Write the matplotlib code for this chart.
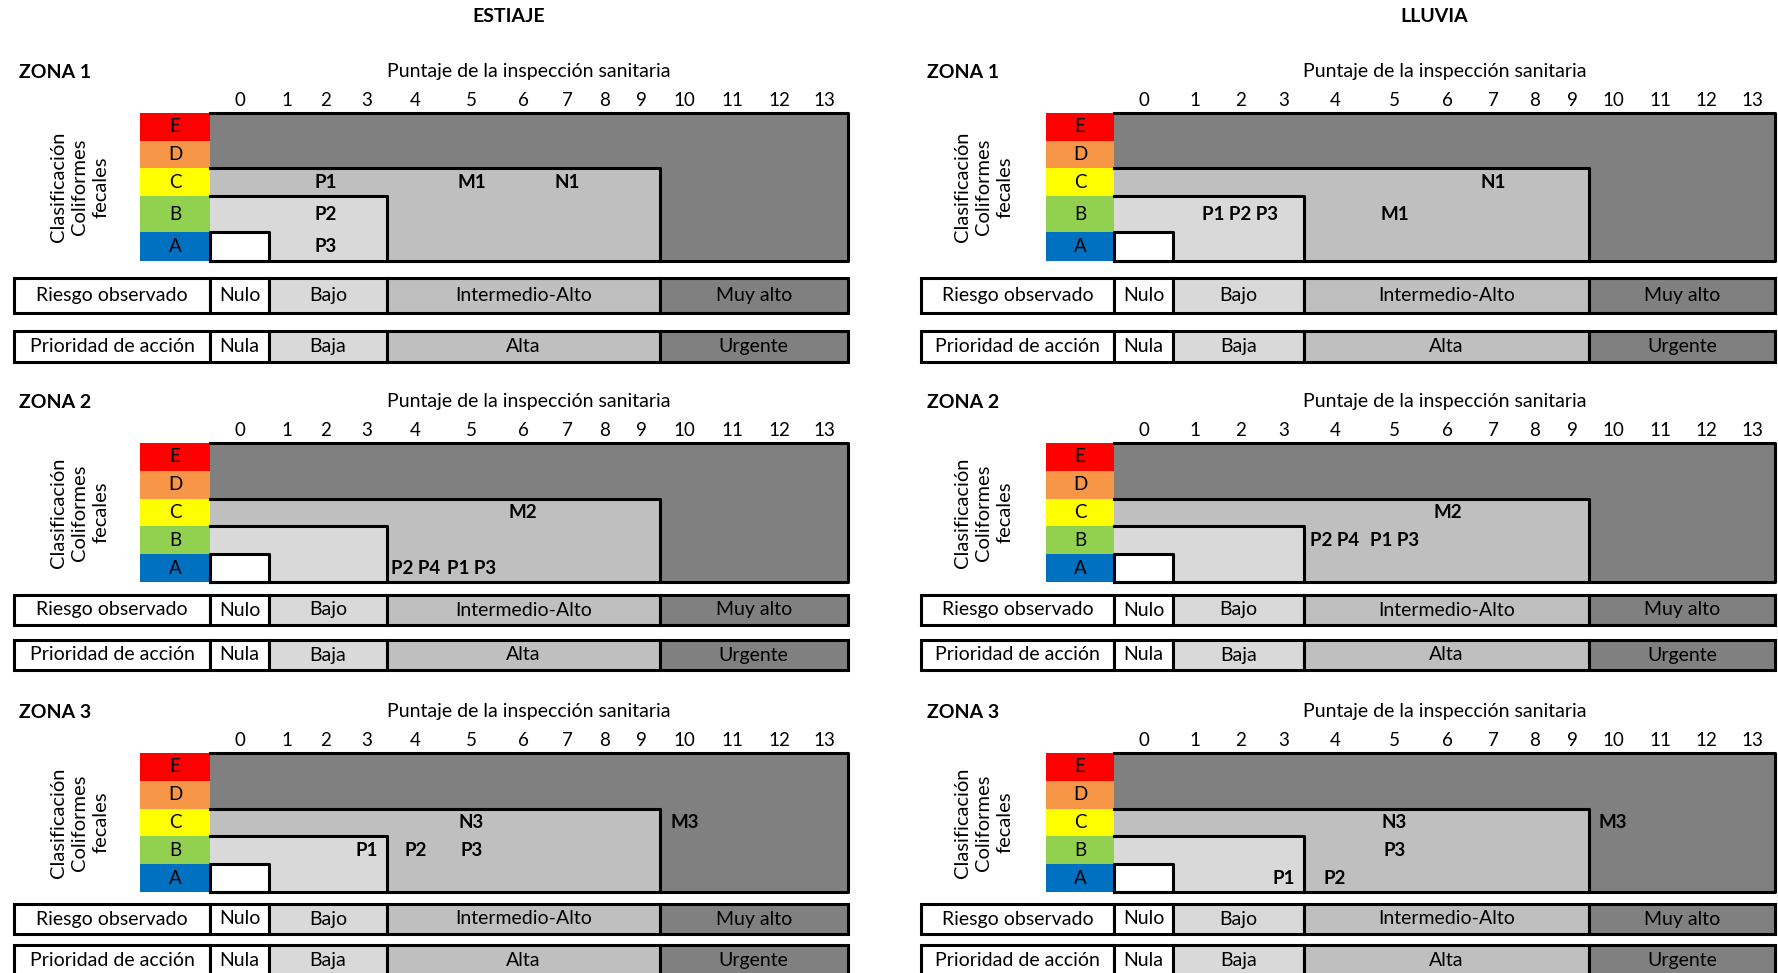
import matplotlib.pyplot as plt
from matplotlib.patches import Rectangle

plt.rcParams['font.family'] = ['Lato', 'DejaVu Sans']

# datos de la matriz de riesgo
seasons = ['ESTIAJE', 'LLUVIA']
zones = ['ZONA 1', 'ZONA 2', 'ZONA 3']
scores = list(range(14))
classes = ['E', 'D', 'C', 'B', 'A']
class_colors = ['#FF0000', '#F79646', '#FFFF00', '#92D050', '#0070C0']
riesgo = ['Nulo', 'Bajo', 'Intermedio-Alto', 'Muy alto']
prioridad = ['Nula', 'Baja', 'Alta', 'Urgente']
nivel_puntaje = [(0, 0), (1, 3), (4, 9), (10, 13)]   # rango de puntaje de cada nivel
nivel_clase = ['A', 'B', 'C', 'E']                   # clase maxima de cada nivel
nivel_colores = ['white', '#D9D9D9', '#BFBFBF', '#808080']

# puntos de muestreo: (etiqueta, puntaje, clase)
estiaje_z1 = [('P1', 2, 'C'), ('M1', 5, 'C'), ('N1', 7, 'C'), ('P2', 2, 'B'), ('P3', 2, 'A')]
estiaje_z2 = [('M2', 6, 'C'), ('P2', 4, 'A'), ('P4', 4, 'A'), ('P1', 5, 'A'), ('P3', 5, 'A')]
estiaje_z3 = [('N3', 5, 'C'), ('M3', 10, 'C'), ('P1', 3, 'B'), ('P2', 4, 'B'), ('P3', 5, 'B')]
lluvia_z1 = [('N1', 7, 'C'), ('P1', 2, 'B'), ('P2', 2, 'B'), ('P3', 2, 'B'), ('M1', 5, 'B')]
lluvia_z2 = [('M2', 6, 'C'), ('P2', 4, 'B'), ('P4', 4, 'B'), ('P1', 5, 'B'), ('P3', 5, 'B')]
lluvia_z3 = [('N3', 5, 'C'), ('M3', 10, 'C'), ('P3', 5, 'B'), ('P1', 3, 'A'), ('P2', 4, 'A')]
puntos = {'ESTIAJE': [estiaje_z1, estiaje_z2, estiaje_z3],
          'LLUVIA': [lluvia_z1, lluvia_z2, lluvia_z3]}

# geometria (pixeles), columnas de ancho variable como en la hoja original
col_edges = {'ESTIAJE': [210, 269, 305, 346, 387, 444, 499, 547, 587, 623, 660, 709, 756, 802, 847.5],
             'LLUVIA': [1114, 1173, 1217, 1264, 1304, 1366, 1423, 1472, 1515, 1555, 1589, 1637, 1683, 1729, 1775]}
label_x0 = {'ESTIAJE': 14, 'LLUVIA': 921}
color_x0 = {'ESTIAJE': 140, 'LLUVIA': 1046}
rot_x = {'ESTIAJE': 80, 'LLUVIA': 984}
zona_x = {'ESTIAJE': 19, 'LLUVIA': 927}
season_x = {'ESTIAJE': 509, 'LLUVIA': 1434}
row_edges = [[113, 141, 168, 196, 232, 261], [443, 471, 499, 526, 554, 582], [753, 781, 809, 836, 864, 892]]
zona_y = [73, 403, 713]
tick_y = [100, 431, 740]
riesgo_y = [(278, 313), (595, 625), (904, 934)]
prior_y = [(331, 362), (640, 670), (945, 976)]

FS = 14
LW = 2.2

fig = plt.figure(figsize=(17.78, 9.73), dpi=100)
ax = fig.add_axes([0, 0, 1, 1])
ax.set_xlim(0, 1778)
ax.set_ylim(973, 0)
ax.axis('off')


def col_center(xe, s):
    return (xe[s] + xe[s + 1]) / 2


def fila(xe, y0, y1, nombre, niveles):
    ax.add_patch(Rectangle((label_x0[side], y0), xe[0] - label_x0[side], y1 - y0,
                           facecolor='white', edgecolor='black', lw=LW))
    ax.text((label_x0[side] + xe[0]) / 2, (y0 + y1) / 2, nombre, ha='center', va='center', fontsize=FS)
    for (a, b), txt, c in zip(nivel_puntaje, niveles, nivel_colores):
        ax.add_patch(Rectangle((xe[a], y0), xe[b + 1] - xe[a], y1 - y0,
                               facecolor=c, edgecolor='black', lw=LW))
        ax.text((xe[a] + xe[b + 1]) / 2, (y0 + y1) / 2, txt, ha='center', va='center', fontsize=FS)


for side in seasons:
    xe = col_edges[side]
    ax.text(season_x[side], 17, side, ha='center', va='center', fontsize=FS, fontweight='bold')
    for z, zona in enumerate(zones):
        ye = row_edges[z]
        ax.text(zona_x[side], zona_y[z], zona, ha='left', va='center', fontsize=FS, fontweight='bold')
        ax.text((xe[0] + xe[-1]) / 2, zona_y[z] - 1, 'Puntaje de la inspección sanitaria',
                ha='center', va='center', fontsize=FS)
        for s in scores:
            ax.text(col_center(xe, s), tick_y[z], str(s), ha='center', va='center', fontsize=FS - 0.5)

        # columna de colores de la clasificacion
        for k, (cl, cc) in enumerate(zip(classes, class_colors)):
            ax.add_patch(Rectangle((color_x0[side], ye[k]), xe[0] - color_x0[side], ye[k + 1] - ye[k],
                                   facecolor=cc, edgecolor='none'))
            ax.text((color_x0[side] + xe[0]) / 2, (ye[k] + ye[k + 1]) / 2, cl,
                    ha='center', va='center', fontsize=FS - 0.5)
        ax.text(rot_x[side], (ye[0] + ye[-1]) / 2, 'Clasificación\nColiformes\nfecales',
                rotation=90, ha='center', va='center', fontsize=FS + 0.5, multialignment='center',
                linespacing=1.3)

        # regiones de riesgo, de mayor a menor
        for n in range(len(nivel_clase) - 1, -1, -1):
            a, b = nivel_puntaje[n]
            top = ye[classes.index(nivel_clase[n])]
            x1 = xe[b + 1]
            ax.add_patch(Rectangle((xe[0], top), x1 - xe[0], ye[-1] - top,
                                   facecolor=nivel_colores[n], edgecolor='none'))
            if n == 0:
                ax.plot([xe[0], xe[0], x1, x1, xe[0]], [ye[-1], top, top, ye[-1], ye[-1]],
                        color='black', lw=LW, solid_capstyle='projecting')
            elif n == len(nivel_clase) - 1:
                ax.plot([xe[0], x1, x1, xe[0]], [top, top, ye[-1], ye[-1]],
                        color='black', lw=LW, solid_capstyle='projecting')
            else:
                ax.plot([xe[0], x1, x1], [top, top, ye[-1]], color='black', lw=LW,
                        solid_capstyle='projecting')

        # etiquetas de los puntos, agrupadas por celda
        celdas = {}
        for nom, sc, cl in puntos[side][z]:
            celdas.setdefault((sc, cl), []).append(nom)
        for (sc, cl), noms in celdas.items():
            k = classes.index(cl)
            ax.text(col_center(xe, sc), (ye[k] + ye[k + 1]) / 2, ' '.join(noms),
                    ha='center', va='center', fontsize=FS - 0.5, fontweight='bold')

        fila(xe, *riesgo_y[z], 'Riesgo observado', riesgo)
        fila(xe, *prior_y[z], 'Prioridad de acción', prioridad)

fig.savefig('out.png', dpi=100)
